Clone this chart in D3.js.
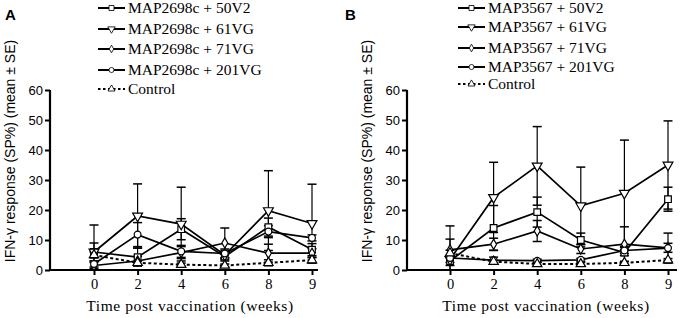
<!DOCTYPE html>
<html>
<head>
<meta charset="utf-8">
<script src="https://cdn.jsdelivr.net/npm/d3@7"></script>
<style>
  body { margin: 0; background: #fff; }
  svg { display: block; }
</style>
</head>
<body>
<script>
var weeks = ["0", "2", "4", "6", "8", "9"];
var yTicks = [0, 10, 20, 30, 40, 50, 60];

var seriesKeys = ["50V2", "61VG", "71VG", "201VG", "Control"];
var labelsA = ["MAP2698c + 50V2", "MAP2698c + 61VG", "MAP2698c + 71VG", "MAP2698c + 201VG", "Control"];
var labelsB = ["MAP3567 + 50V2", "MAP3567 + 61VG", "MAP3567 + 71VG", "MAP3567 + 201VG", "Control"];

// panel A means and SE
var a50V2 = [6, 4.3, 13.6, 4.5, 14.3, 6.8];
var a61VG = [6, 18, 15.3, 5, 19.8, 15.5];
var a71VG = [1.5, 3, 5.8, 9, 5.6, 5.6];
var a201VG = [2, 11.8, 6.2, 5.5, 12.8, 10.7];
var aControl = [5, 2.4, 1.8, 1.5, 2.4, 3.3];
var a50V2se = [3, 3, 3.5, 1.5, 3, 2];
var a61VGse = [9, 10.7, 12.3, 1.5, 13.3, 13.1];
var a71VGse = [1, 1.5, 2, 5, 3, 1.5];
var a201VGse = [1, 4, 2, 1.5, 2, 1];
var aControlse = [1, 0.5, 0.5, 0.5, 1, 1];

// panel B means and SE
var b50V2 = [3, 14, 19.3, 10, 5.8, 23.6];
var b61VG = [3.5, 24.2, 34.7, 21.4, 25.6, 35];
var b71VG = [6.7, 8.6, 13, 7, 8.6, 7.4];
var b201VG = [4, 3.3, 3.1, 3.4, 6.5, 7.3];
var bControl = [5.6, 2.8, 2, 2, 2.4, 3.3];
var b50V2se = [1.5, 7.5, 5, 2.3, 1, 4];
var b61VGse = [1, 11.7, 13.1, 12.9, 17.7, 14.7];
var b71VGse = [8, 2, 3.5, 1.5, 5.8, 1.5];
var b201VGse = [6.3, 1, 0.5, 0.5, 1, 5];
var bControlse = [1, 0.5, 0.5, 0.5, 0.5, 0.5];

var svg = d3.select("body").append("svg")
  .attr("width", 681)
  .attr("height", 318);

var serif = "'Liberation Serif', 'Times New Roman', serif";
var sans = "'Liberation Sans', Arial, sans-serif";

function markerPath(key) {
  if (key == "50V2") return d3.symbol(d3.symbolSquare, 44)();
  if (key == "61VG") return d3.symbol(d3.symbolTriangle, 42)();
  if (key == "71VG") return d3.symbol(d3.symbolDiamond, 30)();
  if (key == "201VG") return d3.symbol(d3.symbolCircle, 36)();
  return d3.symbol(d3.symbolTriangle, 38)();
}
function markerRot(key) {
  return key == "61VG" ? " rotate(180)" : "";
}

function drawPanel(cfg) {
  var g = svg.append("g");
  var x = d3.scalePoint().domain(weeks).range([cfg.x0, cfg.x1]);
  var y = d3.scaleLinear().domain([0, 60]).range([270, 90]);

  // y axis
  var yAxis = g.append("g")
    .attr("transform", "translate(" + cfg.axisX + ",0)")
    .call(d3.axisLeft(y).tickValues(yTicks).tickSize(5).tickPadding(2));
  yAxis.select(".domain").attr("stroke-width", 2.2).attr("d", "M0," + y(60) + "V" + (y(0) + 1));
  yAxis.selectAll(".tick line").attr("stroke-width", 2);
  yAxis.selectAll("text").style("font-family", sans).style("font-size", "13px").attr("fill", "#000");

  // x axis
  var xAxis = g.append("g")
    .attr("transform", "translate(0,270)")
    .call(d3.axisBottom(x).tickSize(5).tickPadding(4));
  xAxis.select(".domain").attr("stroke-width", 2.2).attr("d", "M" + (cfg.axisX - 1) + ",0H" + cfg.axisEnd);
  xAxis.selectAll(".tick line").attr("stroke-width", 2);
  xAxis.selectAll("text").style("font-family", serif).style("font-size", "14.5px").attr("fill", "#000");

  g.append("text")
    .attr("x", (cfg.x0 + cfg.x1) / 2 - 13)
    .attr("y", 311)
    .attr("text-anchor", "middle")
    .style("font-family", serif)
    .style("font-size", "15.5px")
    .style("letter-spacing", "0.6px")
    .text("Time post vaccination (weeks)");

  g.append("text")
    .attr("transform", "translate(" + cfg.titleX + ",151) rotate(-90)")
    .attr("text-anchor", "middle")
    .style("font-family", sans)
    .style("font-size", "14px")
    .text("IFN-\u03b3 response (SP%) (mean \u00b1 SE)");

  g.append("text")
    .attr("x", cfg.letterX)
    .attr("y", 20)
    .style("font-family", sans)
    .style("font-size", "15px")
    .style("font-weight", "bold")
    .text(cfg.letter);

  var line = d3.line()
    .x(function(d, i) { return x(weeks[i]); })
    .y(function(d) { return y(d); });

  // lines
  cfg.series.forEach(function(s) {
    g.append("path")
      .attr("d", line(s.values))
      .attr("fill", "none")
      .attr("stroke", "#000")
      .attr("stroke-width", s.key == "Control" ? 2 : 1.7)
      .attr("stroke-dasharray", s.key == "Control" ? "3,2.5" : null);
  });

  // error bars
  cfg.series.forEach(function(s) {
    s.values.forEach(function(v, i) {
      var cx = x(weeks[i]);
      var lo = Math.max(0, v - s.se[i]);
      var hi = v + s.se[i];
      g.append("line")
        .attr("x1", cx).attr("x2", cx)
        .attr("y1", y(lo)).attr("y2", y(hi))
        .attr("stroke", "#000").attr("stroke-width", 1.2);
      [lo, hi].forEach(function(e) {
        g.append("line")
          .attr("x1", cx - 4.5).attr("x2", cx + 4.5)
          .attr("y1", y(e)).attr("y2", y(e))
          .attr("stroke", "#000").attr("stroke-width", 1.5);
      });
    });
  });

  // markers
  cfg.series.forEach(function(s) {
    g.selectAll(null)
      .data(s.values)
      .enter().append("path")
        .attr("d", markerPath(s.key))
        .attr("transform", function(d, i) { return "translate(" + x(weeks[i]) + "," + y(d) + ")" + markerRot(s.key); })
        .attr("fill", "#fff")
        .attr("stroke", "#000")
        .attr("stroke-width", 1.2);
  });

  // legend
  var leg = g.append("g");
  cfg.series.forEach(function(s, i) {
    var ly = cfg.legY[i];
    leg.append("line")
      .attr("x1", cfg.legX).attr("x2", cfg.legX + 27)
      .attr("y1", ly).attr("y2", ly)
      .attr("stroke", "#000")
      .attr("stroke-width", 2)
      .attr("stroke-dasharray", s.key == "Control" ? "2.5,2.5" : null);
    leg.append("path")
      .attr("d", markerPath(s.key))
      .attr("transform", "translate(" + (cfg.legX + 13.5) + "," + ly + ")" + markerRot(s.key) + " scale(0.75)")
      .attr("fill", "#fff")
      .attr("stroke", "#000")
      .attr("stroke-width", 1.1);
    leg.append("text")
      .attr("x", cfg.legX + 30)
      .attr("y", ly + 5)
      .style("font-family", serif)
      .style("font-size", "15.5px")
      .text(cfg.labels[i]);
  });
}

drawPanel({
  letter: "A", letterX: 5,
  x0: 94, x1: 312, axisX: 50, axisEnd: 318, titleX: 15,
  legX: 98, legY: [8, 29, 49, 70, 89],
  labels: labelsA,
  series: [
    { key: seriesKeys[0], values: a50V2, se: a50V2se },
    { key: seriesKeys[1], values: a61VG, se: a61VGse },
    { key: seriesKeys[2], values: a71VG, se: a71VGse },
    { key: seriesKeys[3], values: a201VG, se: a201VGse },
    { key: seriesKeys[4], values: aControl, se: aControlse }
  ]
});

drawPanel({
  letter: "B", letterX: 345,
  x0: 450, x1: 668, axisX: 407, axisEnd: 677, titleX: 372,
  legX: 458, legY: [8, 27, 48, 67, 84],
  labels: labelsB,
  series: [
    { key: seriesKeys[0], values: b50V2, se: b50V2se },
    { key: seriesKeys[1], values: b61VG, se: b61VGse },
    { key: seriesKeys[2], values: b71VG, se: b71VGse },
    { key: seriesKeys[3], values: b201VG, se: b201VGse },
    { key: seriesKeys[4], values: bControl, se: bControlse }
  ]
});
</script>
</body>
</html>
